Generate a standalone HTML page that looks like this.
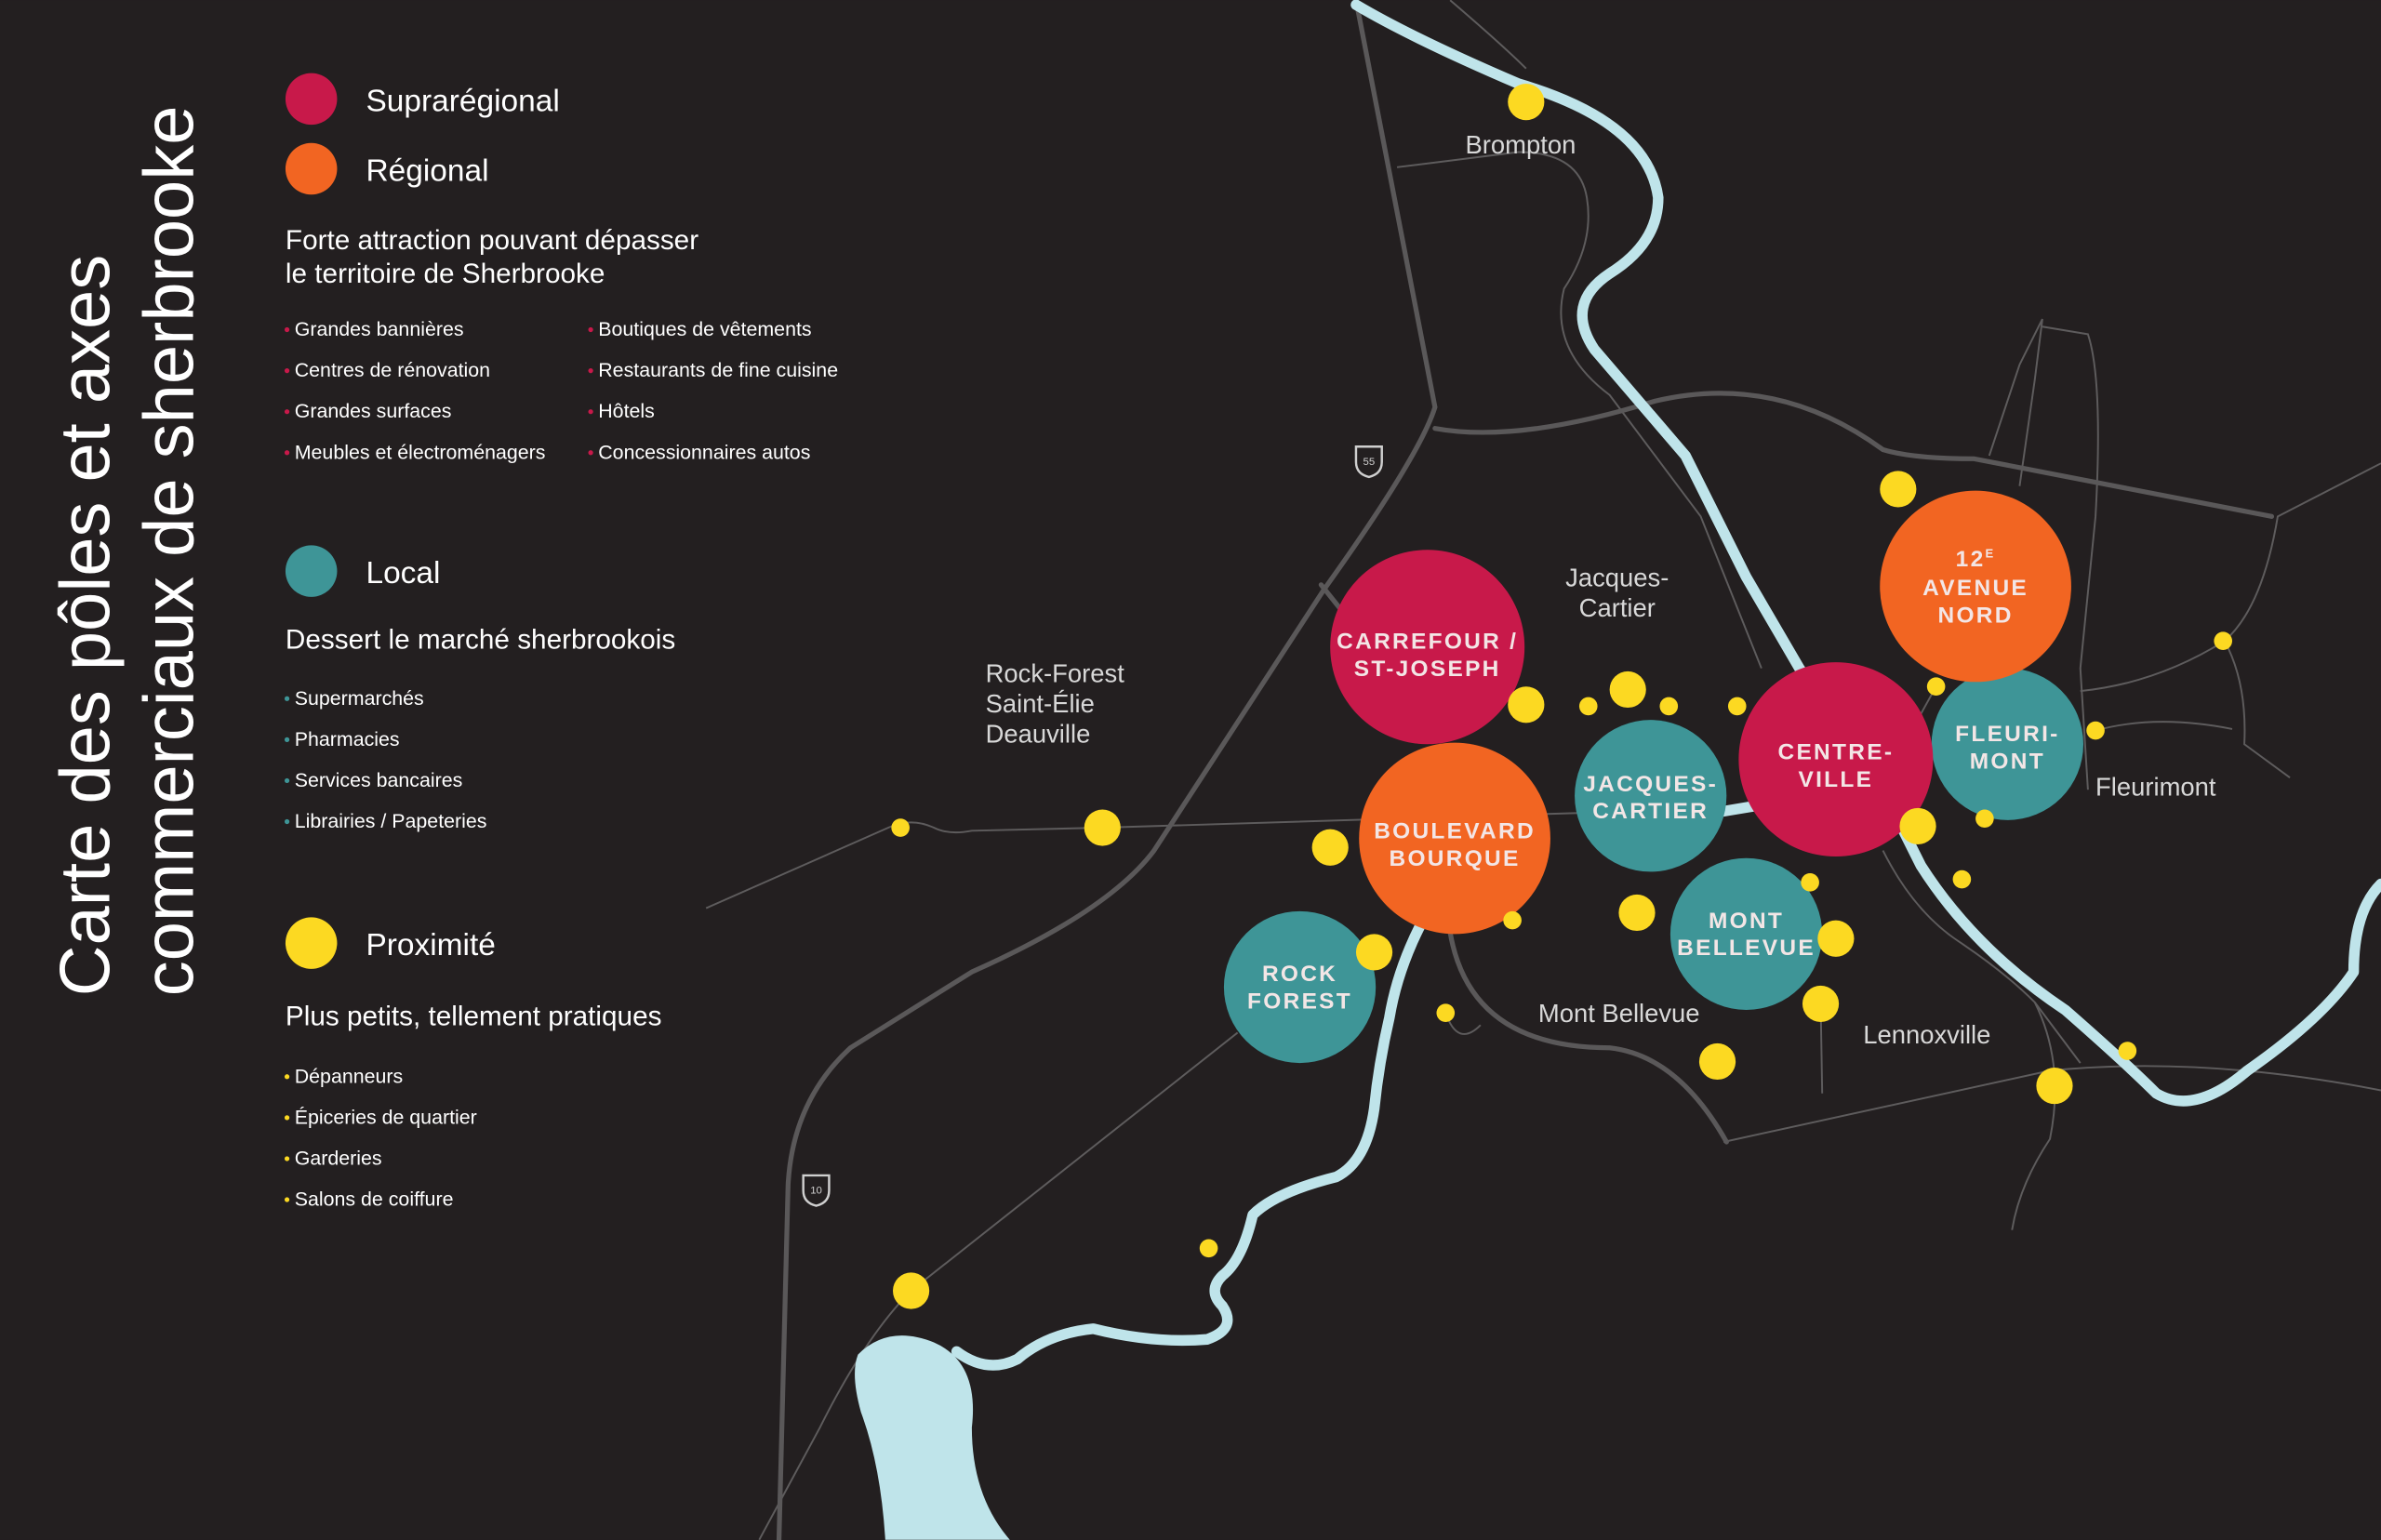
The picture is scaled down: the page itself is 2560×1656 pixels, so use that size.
<!DOCTYPE html>
<html><head><meta charset="utf-8"><style>
html,body{margin:0;padding:0;background:#231f20;}
svg{display:block}
text{font-family:"Liberation Sans",sans-serif;}
.lg{fill:#fff;font-size:20.5px}
.sh{fill:#fff;font-size:18.2px}
.b{fill:#fff;font-size:13.1px}
.ml{fill:#d8d8d8;font-size:16.8px}
.cl{fill:#f3e6e6;font-size:15px;font-weight:bold;letter-spacing:1.4px;text-anchor:middle}
</style></head><body>
<svg width="2560" height="1656" viewBox="0 0 1568 1014" xmlns="http://www.w3.org/2000/svg">
<rect width="1568" height="1014" fill="#231f20"/>
<g fill="none" stroke="#5e5c5d" stroke-width="1.2">
<path d="M465,598 L585,545 Q600,538 615,545 Q625,550 640,547 L726,545 L1050,535"/>
<path d="M815,680 L600,850 Q570,880 540,940 L500,1014"/>
<path d="M1135,752 L1350,705 Q1450,695 1568,718"/>
<path d="M920,110 L1000,100 Q1040,100 1045,130 Q1050,160 1030,190 Q1020,230 1060,260 L1120,340 L1160,440"/>
<path d="M955,0 Q990,30 1005,45"/>
<path d="M1310,300 L1330,240 L1345,210 L1340,250 L1330,320"/>
<path d="M1345,215 L1375,220 Q1385,250 1380,340 L1370,440 L1375,520"/>
<path d="M1370,455 Q1420,450 1465,422 Q1490,400 1500,340 L1568,305"/>
<path d="M1465,422 Q1480,450 1478,490 L1508,512"/>
<path d="M1380,481 Q1420,470 1470,480"/>
<path d="M1240,560 Q1260,600 1290,620 Q1320,640 1340,660 L1370,700"/>
<path d="M1340,660 Q1360,700 1350,750 Q1330,780 1325,810"/>
<path d="M1199,661 L1200,720"/>
<path d="M952,667 Q960,690 975,675"/>
<path d="M1275,452 L1265,470"/>
</g>
<g fill="none" stroke="#5a5859" stroke-width="3.2" stroke-linecap="round">
<path d="M893,0 L945,268 Q935,300 872,388 L760,560 Q730,600 640,640 L560,690 Q522,725 519,780 L513,1014"/>
<path d="M945,282 Q1000,292 1090,264 Q1170,245 1240,296 Q1260,302 1300,302 L1496,340"/>
<path d="M955,614 Q968,690 1060,690 Q1105,695 1137,752"/>
<path d="M870,385 L882,400"/>
</g>
<g fill="none" stroke="#bfe4ea" stroke-width="7" stroke-linecap="round" stroke-linejoin="round">
<path d="M893,3 Q930,25 1000,55 Q1085,80 1092,130 Q1092,160 1060,180 Q1030,200 1050,230 L1110,300 L1150,380 L1185,440 L1240,520 L1265,570 Q1300,625 1360,665 Q1400,700 1420,720 Q1445,735 1480,705 Q1530,670 1550,640 Q1550,600 1568,582"/>
<path d="M1130,535 L1160,530"/>
<path d="M935,610 Q920,640 915,670 Q908,700 905,730 Q900,765 880,775 Q840,785 825,800 Q818,830 805,840 Q795,850 805,860 Q815,875 795,882 Q760,885 720,875 Q690,878 670,895 Q650,905 630,890"/>
</g>
<path d="M565,892 Q585,872 615,884 Q645,897 640,940 Q640,985 665,1014 L583,1014 Q580,965 567,930 Q560,905 565,892 Z" fill="#bfe4ea"/>
<g fill="none" stroke="#cfcfcf" stroke-width="1.5">
<path d="M893,294 h17 v10 q0,8 -8.5,10 q-8.5,-2 -8.5,-10 z"/>
<path d="M529,774 h17 v10 q0,8 -8.5,10 q-8.5,-2 -8.5,-10 z"/>
</g>
<text x="901.5" y="306" font-size="7" fill="#cfcfcf" text-anchor="middle">55</text>
<text x="537.5" y="786" font-size="7" fill="#cfcfcf" text-anchor="middle">10</text>
<circle cx="940" cy="426" r="64" fill="#c8194a"/>
<circle cx="958" cy="552" r="63" fill="#f26522"/>
<circle cx="856" cy="650" r="50" fill="#3e9597"/>
<circle cx="1087" cy="524" r="50" fill="#3e9597"/>
<circle cx="1150" cy="615" r="50" fill="#3e9597"/>
<circle cx="1322" cy="490" r="50" fill="#3e9597"/>
<circle cx="1209" cy="500" r="64" fill="#c8194a"/>
<circle cx="1301" cy="386" r="63" fill="#f26522"/>
<g fill="#fcd922">
<circle cx="1005" cy="67" r="12"/><circle cx="1005" cy="464" r="12"/><circle cx="1072" cy="454" r="12"/>
<circle cx="1046" cy="465" r="6"/><circle cx="1099" cy="465" r="6"/><circle cx="1144" cy="465" r="6"/>
<circle cx="876" cy="558" r="12"/><circle cx="726" cy="545" r="12"/><circle cx="593" cy="545" r="6"/>
<circle cx="905" cy="627" r="12"/><circle cx="996" cy="606" r="6"/><circle cx="952" cy="667" r="6"/>
<circle cx="1078" cy="601" r="12"/><circle cx="1192" cy="581" r="6"/><circle cx="1209" cy="618" r="12"/>
<circle cx="1199" cy="661" r="12"/><circle cx="1131" cy="699" r="12"/><circle cx="1263" cy="544" r="12"/>
<circle cx="1250" cy="322" r="12"/><circle cx="1275" cy="452" r="6"/><circle cx="1307" cy="539" r="6"/>
<circle cx="1292" cy="579" r="6"/><circle cx="1380" cy="481" r="6"/><circle cx="1464" cy="422" r="6"/>
<circle cx="1353" cy="715" r="12"/><circle cx="1401" cy="692" r="6"/><circle cx="600" cy="850" r="12"/>
<circle cx="796" cy="822" r="6"/>
</g>
<text class="cl" x="940" y="427">CARREFOUR /</text><text class="cl" x="940" y="445">ST-JOSEPH</text>
<text class="cl" x="958" y="552">BOULEVARD</text><text class="cl" x="958" y="570">BOURQUE</text>
<text class="cl" x="856" y="646">ROCK</text><text class="cl" x="856" y="664">FOREST</text>
<text class="cl" x="1087" y="521">JACQUES-</text><text class="cl" x="1087" y="539">CARTIER</text>
<text class="cl" x="1150" y="611">MONT</text><text class="cl" x="1150" y="629">BELLEVUE</text>
<text class="cl" x="1322" y="488">FLEURI-</text><text class="cl" x="1322" y="506">MONT</text>
<text class="cl" x="1209" y="500">CENTRE-</text><text class="cl" x="1209" y="518">VILLE</text>
<text class="cl" x="1301" y="373">12<tspan font-size="8" dy="-6">E</tspan></text><text class="cl" x="1301" y="392">AVENUE</text><text class="cl" x="1301" y="410">NORD</text>
<text class="ml" x="965" y="101">Brompton</text>
<text class="ml" x="1065" y="386" text-anchor="middle">Jacques-</text><text class="ml" x="1065" y="406" text-anchor="middle">Cartier</text>
<text class="ml" x="649" y="449">Rock-Forest</text><text class="ml" x="649" y="469">Saint-Élie</text><text class="ml" x="649" y="489">Deauville</text>
<text class="ml" x="1380" y="524">Fleurimont</text>
<text class="ml" x="1013" y="673">Mont Bellevue</text>
<text class="ml" x="1227" y="687">Lennoxville</text>
<g fill="#fff" font-size="46.5">
<text transform="translate(72,656) rotate(-90)">Carte des pôles et axes</text>
<text transform="translate(127,656) rotate(-90)">commerciaux de sherbrooke</text>
</g>
<circle cx="205" cy="65" r="17" fill="#c8194a"/>
<circle cx="205" cy="111" r="17" fill="#f26522"/>
<circle cx="205" cy="376" r="17" fill="#3e9597"/>
<circle cx="205" cy="621" r="17" fill="#fcd922"/>
<text class="lg" x="241" y="73">Suprarégional</text>
<text class="lg" x="241" y="119">Régional</text>
<text class="sh" x="188" y="164">Forte attraction pouvant dépasser</text>
<text class="sh" x="188" y="186">le territoire de Sherbrooke</text>
<g class="b">
<text x="194" y="221">Grandes bannières</text><text x="194" y="248">Centres de rénovation</text>
<text x="194" y="275">Grandes surfaces</text><text x="194" y="302">Meubles et électroménagers</text>
<text x="394" y="221">Boutiques de vêtements</text><text x="394" y="248">Restaurants de fine cuisine</text>
<text x="394" y="275">Hôtels</text><text x="394" y="302">Concessionnaires autos</text>
</g>
<g fill="#c8194a"><circle cx="189" cy="217" r="1.6"/><circle cx="189" cy="244" r="1.6"/><circle cx="189" cy="271" r="1.6"/><circle cx="189" cy="298" r="1.6"/>
<circle cx="389" cy="217" r="1.6"/><circle cx="389" cy="244" r="1.6"/><circle cx="389" cy="271" r="1.6"/><circle cx="389" cy="298" r="1.6"/></g>
<text class="lg" x="241" y="384">Local</text>
<text class="sh" x="188" y="427">Dessert le marché sherbrookois</text>
<g class="b"><text x="194" y="464">Supermarchés</text><text x="194" y="491">Pharmacies</text><text x="194" y="518">Services bancaires</text><text x="194" y="545">Librairies / Papeteries</text></g>
<g fill="#3e9597"><circle cx="189" cy="460" r="1.6"/><circle cx="189" cy="487" r="1.6"/><circle cx="189" cy="514" r="1.6"/><circle cx="189" cy="541" r="1.6"/></g>
<text class="lg" x="241" y="629">Proximité</text>
<text class="sh" x="188" y="675">Plus petits, tellement pratiques</text>
<g class="b"><text x="194" y="713">Dépanneurs</text><text x="194" y="740">Épiceries de quartier</text><text x="194" y="767">Garderies</text><text x="194" y="794">Salons de coiffure</text></g>
<g fill="#fcd922"><circle cx="189" cy="709" r="1.6"/><circle cx="189" cy="736" r="1.6"/><circle cx="189" cy="763" r="1.6"/><circle cx="189" cy="790" r="1.6"/></g>
</svg>
</body></html>
